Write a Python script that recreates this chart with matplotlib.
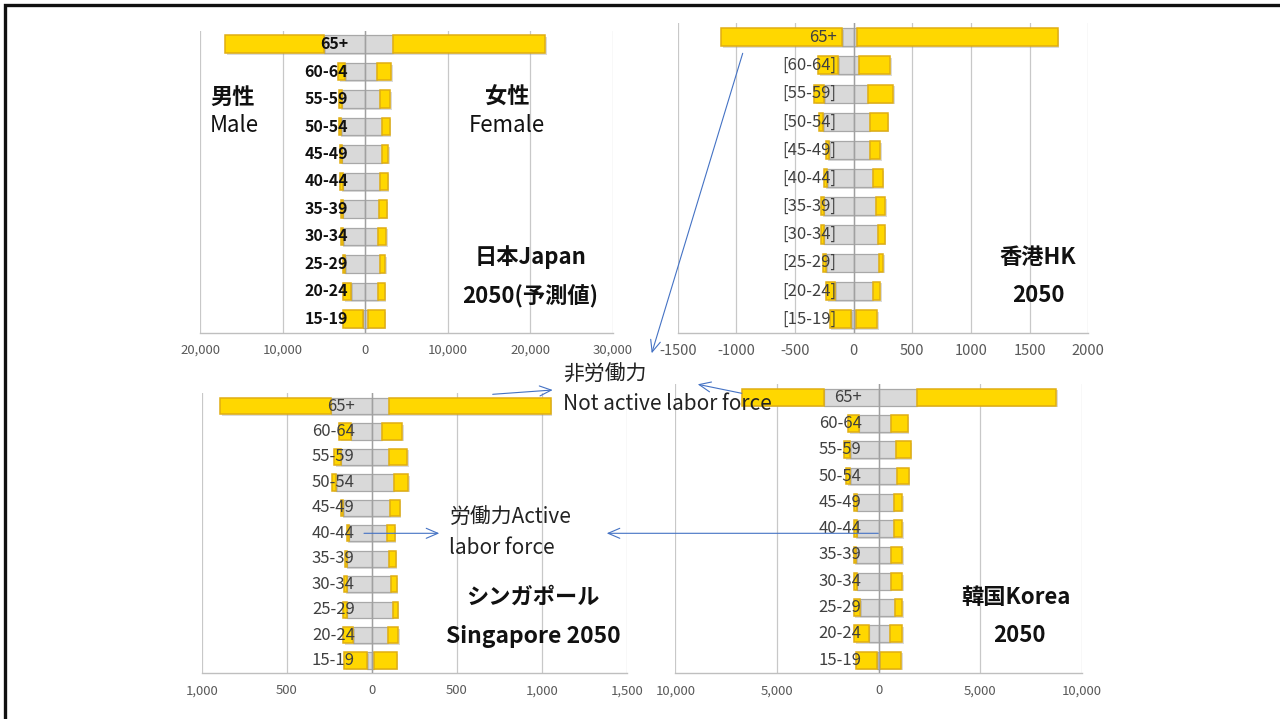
import numpy as np
import matplotlib
matplotlib.use("Agg")
import matplotlib.pyplot as plt
from matplotlib import transforms
from matplotlib import patheffects as pe

plt.rcParams['font.family'] = ['Noto Sans CJK JP', 'DejaVu Sans']

# Age groups, top to bottom
ages = ["65+", "60-64", "55-59", "50-54", "45-49", "40-44",
        "35-39", "30-34", "25-29", "20-24", "15-19"]
ages_hk = ["65+", "[60-64]", "[55-59]", "[50-54]", "[45-49]", "[40-44]",
           "[35-39]", "[30-34]", "[25-29]", "[20-24]", "[15-19]"]

# Japan 2050 (projection)
jp_male_active = [4940, 2430, 2830, 2910, 2830, 2710, 2710, 2630, 2430, 1700, 280]
jp_male_inactive = [12020, 870, 290, 210, 250, 290, 250, 240, 280, 930, 2350]
jp_female_active = [3440, 1420, 1820, 2020, 2020, 1860, 1660, 1620, 1820, 1580, 320]
jp_female_inactive = [18360, 1740, 1180, 940, 810, 890, 970, 930, 650, 810, 2070]

# Hong Kong 2050
hk_male_active = [100, 134, 250, 262, 210, 228, 256, 256, 236, 156, 23]
hk_male_inactive = [1029, 170, 86, 37, 23, 22, 20, 20, 23, 77, 182]
hk_female_active = [31, 43, 119, 142, 137, 162, 193, 208, 213, 162, 23]
hk_female_inactive = [1709, 270, 217, 148, 91, 85, 77, 57, 37, 66, 179]

# Singapore 2050
sg_male_active = [241, 124, 182, 210, 167, 135, 147, 147, 147, 108, 25]
sg_male_inactive = [651, 66, 40, 23, 13, 12, 10, 14, 20, 59, 138]
sg_female_active = [102, 59, 104, 133, 110, 92, 102, 114, 127, 98, 16]
sg_female_inactive = [951, 121, 106, 83, 55, 43, 39, 33, 26, 59, 131]

# Korea 2050
kr_male_active = [2700, 980, 1390, 1390, 1070, 1070, 1100, 1070, 900, 490, 50]
kr_male_inactive = [4000, 500, 300, 200, 130, 130, 130, 160, 330, 710, 1080]
kr_female_active = [1890, 610, 850, 900, 740, 740, 620, 610, 790, 570, 80]
kr_female_inactive = [6850, 830, 740, 590, 410, 410, 530, 570, 390, 580, 1020]

W, H = 1280, 719
GRAY, GRAY_EDGE = '#D9D9D9', '#A8A8A8'
YELLOW, YELLOW_EDGE = '#FFD700', '#E0AE12'
GRID = '#C8C8C8'

fig = plt.figure(figsize=(W / 100, H / 100), dpi=100)


def px_axes(x0, y0, x1, y1):
    return fig.add_axes([x0 / W, 1 - y1 / H, (x1 - x0) / W, (y1 - y0) / H])


def fmt_abs(v):
    return f"{abs(int(round(v))):,}"


def fmt_plain(v):
    return f"{int(round(v))}"


def pyramid(ax, labels, m_act, m_inact, f_act, f_inact, xlim, step, fmt,
            label_kw, tick_size=9.5):
    n = len(labels)
    y = np.arange(n)
    m_act = np.asarray(m_act, float)
    m_inact = np.asarray(m_inact, float)
    f_act = np.asarray(f_act, float)
    f_inact = np.asarray(f_inact, float)
    h = 0.64
    shadow = [pe.SimplePatchShadow(offset=(1.2, -1.2), shadow_rgbFace='#999999', alpha=0.35),
              pe.Normal()]
    kw_g = dict(height=h, color=GRAY, edgecolor=GRAY_EDGE, linewidth=0.9, zorder=2)
    kw_y = dict(height=h, color=YELLOW, edgecolor=YELLOW_EDGE, linewidth=1.1, zorder=2)
    for bars in (ax.barh(y, -m_act, **kw_g),
                 ax.barh(y, -m_inact, left=-m_act, **kw_y),
                 ax.barh(y, f_act, **kw_g),
                 ax.barh(y, f_inact, left=f_act, **kw_y)):
        for b in bars:
            b.set_path_effects(shadow)
    ax.set_xlim(*xlim)
    ax.set_ylim(n - 0.5, -0.5)
    ticks = np.arange(xlim[0], xlim[1] + step / 2, step)
    ax.set_xticks(ticks)
    ax.set_xticklabels([fmt(t) for t in ticks])
    for t in ticks:
        ax.axvline(t, color=GRID, lw=0.9, zorder=0)
    ax.axvline(0, color='#A0A0A0', lw=1.0, zorder=3)
    ax.set_yticks([])
    ax.tick_params(axis='x', length=0, pad=8, labelsize=tick_size, labelcolor='#595959')
    for s in ('top', 'left', 'right'):
        ax.spines[s].set_visible(False)
    ax.spines['bottom'].set_color('#BFBFBF')
    ax.spines['bottom'].set_linewidth(1.0)
    ax.patch.set_alpha(0)
    tr = transforms.offset_copy(ax.transData, fig=fig, x=-17, y=0, units='dots')
    for i, lab in enumerate(labels):
        ax.text(0, i, lab, transform=tr, ha='right', va='center', zorder=5, **label_kw)


ax_jp = px_axes(200, 30.5, 612.7, 332.5)
pyramid(ax_jp, ages, jp_male_active, jp_male_inactive, jp_female_active, jp_female_inactive,
        (-20000, 30000), 10000, fmt_abs,
        dict(fontsize=11.5, fontweight='bold', color='#111111'))

ax_hk = px_axes(677.7, 23.2, 1088.3, 333.1)
pyramid(ax_hk, ages_hk, hk_male_active, hk_male_inactive, hk_female_active, hk_female_inactive,
        (-1500, 2000), 500, fmt_plain,
        dict(fontsize=12, color='#404040'), tick_size=10.5)

ax_sg = px_axes(201.7, 393.3, 626.7, 673.3)
pyramid(ax_sg, ages, sg_male_active, sg_male_inactive, sg_female_active, sg_female_inactive,
        (-1000, 1500), 500, fmt_abs,
        dict(fontsize=12, color='#404040'))

ax_kr = px_axes(675.3, 384, 1081.7, 673.3)
pyramid(ax_kr, ages, kr_male_active, kr_male_inactive, kr_female_active, kr_female_inactive,
        (-10000, 10000), 5000, fmt_abs,
        dict(fontsize=12, color='#404040'))

# Overlay in pixel coordinates for titles, notes and arrows
ov = fig.add_axes([0, 0, 1, 1])
ov.set_xlim(0, W)
ov.set_ylim(H, 0)
ov.axis('off')

bold = dict(fontsize=16, fontweight='bold', color='#111111', va='center')
ov.text(210, 97, "男性", ha='left', **bold)
ov.text(210, 126, "Male", ha='left', fontsize=16, color='#111111', va='center')
ov.text(507, 97, "女性", ha='center', **bold)
ov.text(507, 126, "Female", ha='center', fontsize=16, color='#111111', va='center')

ov.text(531, 257, "日本Japan", ha='center', **bold)
ov.text(530, 296, "2050(予測値)", ha='center', **bold)
ov.text(1038, 257, "香港HK", ha='center', **bold)
ov.text(1038, 296, "2050", ha='center', **bold)
ov.text(533, 597, "シンガポール", ha='center', **bold)
ov.text(533, 637, "Singapore 2050", ha='center', fontsize=16.5, fontweight='bold',
        color='#111111', va='center')
ov.text(1016, 597, "韓国Korea", ha='center', **bold)
ov.text(1019, 636, "2050", ha='center', **bold)

note = dict(fontsize=15, color='#222222', va='center', ha='left')
ov.text(563, 375, "非労働力", **note)
ov.text(563, 404, "Not active labor force", **note)
ov.text(450, 518, "労働力Active", **note)
ov.text(449, 548, "labor force", **note)

arrow = dict(arrowstyle='->,head_length=0.7,head_width=0.3', color='#4472C4', lw=0.8,
             shrinkA=0, shrinkB=0, mutation_scale=12)
for start, end in [((742.7, 53.3), (651.7, 353.3)),
                   ((492.7, 394.3), (552.7, 390.0)),
                   ((741.7, 393.3), (697.7, 384.3)),
                   ((364.0, 533.3), (439.3, 533.3)),
                   ((878.3, 533.3), (606.7, 533.3))]:
    ov.annotate('', xy=end, xytext=start, arrowprops=arrow, zorder=6)

# Slide frame along the top and left edges
ov.plot([4.5, 4.5, W], [H, 4.5, 4.5], color='#111111', lw=2.4, solid_joinstyle='miter',
        clip_on=False)

fig.savefig("out.png", dpi=100)
